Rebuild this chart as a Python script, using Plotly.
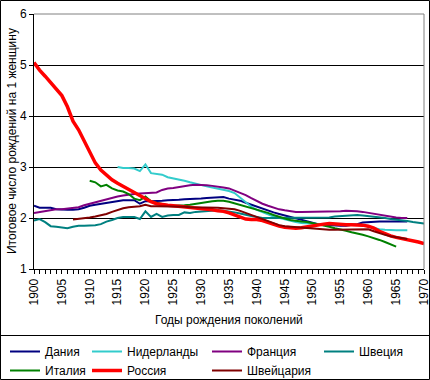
import plotly.graph_objects as go

# ---- data ----
denmark_start = 1900
denmark = [2.24,2.20,2.20,2.20,2.17,2.16,2.16,2.16,2.17,2.20,
           2.24,2.26,2.28,2.30,2.32,2.34,2.35,2.35,2.35,2.28,
           2.33,2.33,2.33,2.34,2.35,2.35,2.36,2.37,2.37,2.37,
           2.38,2.39,2.40,2.41,2.41,2.38,2.36,2.34,2.30,2.26,
           2.23,2.19,2.15,2.11,2.08,2.05,2.02,1.99,1.96,1.93,
           1.90,1.88,1.87,1.86,1.85,1.85,1.85,1.86,1.88,1.91,
           1.92,1.93,1.93,1.93,1.93,1.93,1.93,1.93]

netherlands_start = 1915
netherlands = [3.00,2.98,2.98,2.97,2.92,
               3.05,2.88,2.86,2.85,2.80,2.78,2.75,2.73,2.70,2.67,
               2.65,2.62,2.60,2.58,2.56,2.53,2.49,2.40,2.31,2.22,
               2.16,2.11,2.07,2.03,2.00,1.97,1.94,1.92,1.90,1.89,
               1.89,1.88,1.88,1.88,1.88,1.88,1.88,1.88,1.87,1.86,
               1.83,1.80,1.78,1.77,1.76,1.76,1.76,1.76]

france_start = 1900
france = [2.10,2.12,2.14,2.16,2.17,2.17,2.18,2.19,2.21,2.25,
          2.28,2.30,2.33,2.36,2.39,2.42,2.44,2.46,2.47,2.48,
          2.49,2.49,2.50,2.55,2.58,2.59,2.61,2.63,2.64,2.65,
          2.65,2.64,2.63,2.62,2.60,2.58,2.54,2.50,2.45,2.39,
          2.33,2.28,2.24,2.20,2.17,2.15,2.13,2.12,2.12,2.12,
          2.12,2.12,2.12,2.12,2.12,2.13,2.14,2.14,2.13,2.12,
          2.10,2.08,2.06,2.04,2.02,2.01,2.00,2.00]

sweden_start = 1900
sweden = [1.95,1.98,1.92,1.84,1.83,1.82,1.80,1.83,1.85,1.85,
          1.85,1.86,1.88,1.93,1.96,2.00,2.02,2.02,2.02,1.98,
          2.13,2.02,2.08,2.02,2.05,2.06,2.06,2.11,2.10,2.12,
          2.13,2.14,2.15,2.15,2.14,2.13,2.11,2.09,2.06,2.04,
          2.02,2.00,2.00,2.00,2.00,2.00,2.00,2.00,2.00,2.00,
          2.00,2.00,2.00,2.01,2.03,2.04,2.05,2.06,2.06,2.05,
          2.04,2.03,2.02,2.00,1.98,1.97,1.95,1.94,1.92,1.90,1.89]

italy_start = 1910
italy = [2.73,2.70,2.62,2.65,2.58,2.54,2.52,2.47,2.38,2.35,
         2.42,2.33,2.30,2.27,2.25,2.24,2.24,2.25,2.26,2.28,
         2.29,2.31,2.33,2.34,2.34,2.32,2.29,2.26,2.22,2.19,
         2.16,2.13,2.10,2.06,2.02,1.99,1.96,1.94,1.93,1.92,
         1.90,1.88,1.86,1.83,1.80,1.78,1.75,1.72,1.70,1.67,
         1.64,1.61,1.57,1.53,1.49,1.44]

russia_start = 1900
russia = [5.05,4.90,4.78,4.65,4.52,4.40,4.18,3.90,3.73,3.52,
          3.29,3.08,2.94,2.84,2.75,2.68,2.62,2.56,2.50,2.45,
          2.38,2.32,2.28,2.26,2.25,2.24,2.23,2.22,2.21,2.20,
          2.19,2.18,2.16,2.14,2.13,2.10,2.06,2.02,1.98,1.97,
          1.97,1.95,1.91,1.87,1.84,1.82,1.81,1.80,1.81,1.83,
          1.85,1.87,1.88,1.89,1.88,1.87,1.87,1.87,1.87,1.86,
          1.84,1.80,1.74,1.69,1.65,1.62,1.60,1.57,1.55,1.53,1.50]

switzerland_start = 1907
switzerland = [1.97,1.98,1.99,
               2.01,2.03,2.05,2.08,2.12,2.16,2.19,2.21,2.22,2.23,
               2.26,2.23,2.23,2.23,2.23,2.23,2.22,2.22,2.21,2.21,
               2.20,2.20,2.20,2.20,2.19,2.18,2.17,2.14,2.10,2.06,
               2.02,1.97,1.93,1.89,1.86,1.84,1.83,1.82,1.81,1.80,
               1.79,1.78,1.77,1.77,1.77,1.77,1.77,1.77,1.77,1.77,
               1.78,1.74,1.70,1.67,1.64,1.62,1.60,1.59]

x_tick_labels = ["1900", "1905", "1910", "1915", "1920", "1925", "1930", "1935",
                 "1940", "1945", "1950", "1955", "1960", "1965", "1970"]
x_title = "Годы рождения поколений"
y_title = "Итоговое число рождений на 1 женщину"

series = [
    ("Дания", denmark_start, denmark, "#000080", 2, "legend"),
    ("Нидерланды", netherlands_start, netherlands, "#33CCCC", 2, "legend2"),
    ("Франция", france_start, france, "#800080", 2, "legend3"),
    ("Швеция", sweden_start, sweden, "#008080", 2, "legend4"),
    ("Италия", italy_start, italy, "#008000", 2, "legend"),
    ("Россия", russia_start, russia, "#FF0000", 3.5, "legend2"),
    ("Швейцария", switzerland_start, switzerland, "#800000", 2, "legend3"),
]

FONT = "Liberation Sans, Arial, sans-serif"

fig = go.Figure()
for name, start, vals, color, width, leg in series:
    fig.add_trace(go.Scatter(
        x=list(range(start, start + len(vals))), y=vals, mode="lines",
        name=name, line=dict(color=color, width=width), legend=leg))

L, R, T, B = 34, 6, 14, 111
W, H = 430, 380
pw, ph = W - L - R, H - T - B

def px(x):
    return (x - L) / pw

def py(y):
    return (H - B - y) / ph

legend_common = dict(orientation="v", yanchor="top", xanchor="left",
                     bgcolor="rgba(0,0,0,0)", borderwidth=0,
                     font=dict(family=FONT, size=12, color="black"),
                     itemwidth=30, tracegroupgap=0)
legend_y = py(337)

fig.update_layout(
    width=W, height=H,
    margin=dict(l=L, r=R, t=T, b=B, autoexpand=False),
    paper_bgcolor="white", plot_bgcolor="white",
    font=dict(family=FONT, size=12, color="black"),
    showlegend=True,
    legend=dict(x=px(5), y=legend_y, **legend_common),
    legend2=dict(x=px(87), y=legend_y, **legend_common),
    legend3=dict(x=px(207), y=legend_y, **legend_common),
    legend4=dict(x=px(319), y=legend_y, **legend_common),
    xaxis=dict(
        range=[1900, 1970], tickmode="array",
        tickvals=[int(t) for t in x_tick_labels], ticktext=x_tick_labels,
        ticks="outside", ticklen=4, tickcolor="black", tickwidth=1,
        tickangle=-90, tickfont=dict(family=FONT, size=12, color="black"),
        ticklabeloverflow="allow",
        showline=True, linecolor="black", linewidth=1,
        showgrid=False, zeroline=False, automargin=False,
        minor=dict(dtick=1, tick0=1900, ticks="outside", ticklen=4,
                   tickcolor="black", showgrid=False),
    ),
    yaxis=dict(
        range=[1, 6], dtick=1,
        ticks="outside", ticklen=4, tickcolor="black",
        tickfont=dict(family=FONT, size=12, color="black"),
        showline=True, linecolor="black", linewidth=1,
        showgrid=True, gridcolor="black", gridwidth=1, zeroline=False,
        automargin=False,
    ),
    annotations=[
        dict(text=x_title, xref="paper", yref="paper", x=px(229), y=py(320),
             xanchor="center", yanchor="middle", showarrow=False,
             font=dict(family=FONT, size=12, color="black")),
        dict(text=y_title, xref="paper", yref="paper", x=px(12), y=py(141),
             xanchor="center", yanchor="middle", showarrow=False, textangle=-90,
             font=dict(family=FONT, size=12, color="black")),
    ],
    shapes=[
        dict(type="line", xref="paper", yref="paper", x0=0, x1=1, y0=1, y1=1,
             line=dict(color="#808080", width=1), layer="above"),
        dict(type="line", xref="paper", yref="paper", x0=1, x1=1, y0=0, y1=1,
             line=dict(color="#808080", width=1), layer="above"),
        dict(type="rect", xref="paper", yref="paper",
             x0=px(0.5), x1=px(429.5), y0=py(379.5), y1=py(0.5),
             line=dict(color="black", width=1), layer="above"),
        dict(type="line", xref="paper", yref="paper",
             x0=px(0.5), x1=px(429.5), y0=py(335.5), y1=py(335.5),
             line=dict(color="black", width=1), layer="above"),
    ],
)

fig.write_html("out.html", config={"displayModeBar": False},
               post_script="document.body.style.margin='0';document.body.style.overflow='hidden';")
